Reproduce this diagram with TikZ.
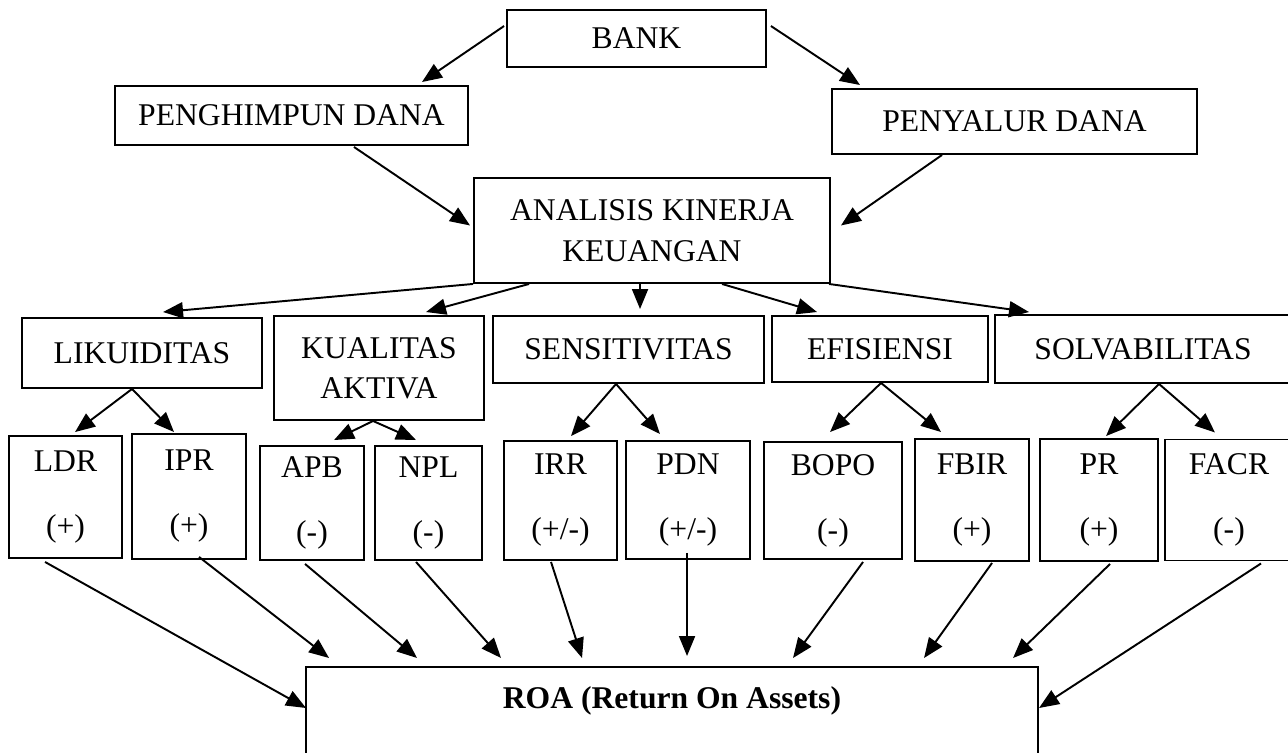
\documentclass[tikz,border=0pt]{standalone}
\usepackage{fontspec}
\setmainfont{Liberation Serif}
\usetikzlibrary{arrows.meta,calc}

\begin{document}
\begin{tikzpicture}[
		x=0.02cm,y=-0.02cm,
		box/.style = {
			rectangle,draw,inner sep=0pt,
			align=center,font=\fontsize{18}{23}\selectfont
		},
		wh/.style 2 args = {minimum width=#1*0.02cm,minimum height=#2*0.02cm},
		>={Triangle[length=4mm,width=3.2mm]},line width=1.1pt]
	\useasboundingbox (0,0) rectangle (1288,753);
	% atas
	\node[box,wh={259}{57}]  (bank)     at (636.5,38.5)  {BANK};
	\node[box,wh={353}{59}]  (himpun)   at (291.5,115.5) {PENGHIMPUN DANA};
	\node[box,wh={365}{65}]  (salur)    at (1014.5,121.5) {PENYALUR DANA};
	\node[box,wh={356}{105}] (analisis) at (652,230.5)   {ANALISIS KINERJA\\KEUANGAN};
	% rasio
	\node[box,wh={240}{70}]  (likuid)   at (142,353)     {LIKUIDITAS};
	\node[box,wh={210}{104}] (kualitas) at (379,368)     {KUALITAS\\AKTIVA};
	\node[box,wh={271}{67}]  (sensitiv) at (628.5,349.5) {SENSITIVITAS};
	\node[box,wh={216}{66}]  (efisien)  at (880,349)     {EFISIENSI};
	\node[box,wh={296}{68}]  (solva)    at (1143,349)    {SOLVABILITAS};
	% variabel
	\node[box,wh={113}{122}] (ldr)  at (65.5,497)  {LDR\\[14pt](+)};
	\node[box,wh={114}{125}] (ipr)  at (189,496.5) {IPR\\[14pt](+)};
	\node[box,wh={104}{114}] (apb)  at (312,503)   {APB\\[14pt](-)};
	\node[box,wh={107}{114}] (npl)  at (428.5,503) {NPL\\[14pt](-)};
	\node[box,wh={113}{119}] (irr)  at (560.5,500.5) {IRR\\[14pt](+/-)};
	\node[box,wh={124}{118}] (pdn)  at (688,500)   {PDN\\[14pt](+/-)};
	\node[box,wh={138}{117}] (bopo) at (833,500.5) {BOPO\\[14pt](-)};
	\node[box,wh={114}{122}] (fbir) at (972,500)   {FBIR\\[14pt](+)};
	\node[box,wh={118}{122}] (pr)   at (1099,500)  {PR\\[14pt](+)};
	\node[box,wh={128}{121}] (facr) at (1229,500)  {FACR\\[14pt](-)};
	% hasil
	\node[box,anchor=north,minimum width=732*0.02cm,text height=0.84cm,text depth=1.8cm,
		font=\fontsize{18}{23}\selectfont\bfseries] (roa) at (672,666) {ROA (Return On Assets)};

	\draw[->] ($(bank.north west)+(-2,17)$) -- ($(himpun.north east)+(-47,-3)$);
	\draw[->] ($(bank.north east)+(4,17)$) -- ($(salur.north west)+(29,-3)$);
	\draw[->] ($(himpun.south east)+(-115,1)$) -- ($(analisis.west)+(-3,-5)$);
	\draw[->] ($(salur.south west)+(111,0)$) -- ($(analisis.east)+(10,-5)$);
	\foreach \dx/\dst/\ex/\ey in {0/likuid/142/-5, 56/kualitas/153/-3, 167/sensitiv/148/-6,
		249/efisien/46/-3, 356/solva/35/-2}
		\draw[->] ($(analisis.south west)+(\dx,0)$) -- ($(\dst.north west)+(\ex,\ey)$);
	\foreach \src/\dx/\dst/\ex/\ey in {likuid/111/ldr/67/-3, likuid/111/ipr/43/-1,
		kualitas/100/apb/75/-5, kualitas/100/npl/42/-5,
		sensitiv/124/irr/68/-4, sensitiv/124/pdn/35/-6,
		efisien/110/bopo/67/-9, efisien/110/fbir/27/-6,
		solva/165/pr/67/-2, solva/165/facr/51/-6}
		\draw[->] ($(\src.south west)+(\dx,0)$) -- ($(\dst.north west)+(\ex,\ey)$);
	\foreach \src/\sx/\sy/\ex/\ey in {ldr/37/3/1/42, ipr/68/-3/24/-8, apb/46/3/112/-8,
		npl/42/1/196/-8, irr/48/1/277/-8, pdn/62/-7/382/-10, bopo/100/2/488/-8,
		fbir/78/1/619/-8, pr/71/2/708/-8, facr/97/2/734/42}
		\draw[->] ($(\src.south west)+(\sx,\sy)$) -- ($(roa.north west)+(\ex,\ey)$);
\end{tikzpicture}
\end{document}
